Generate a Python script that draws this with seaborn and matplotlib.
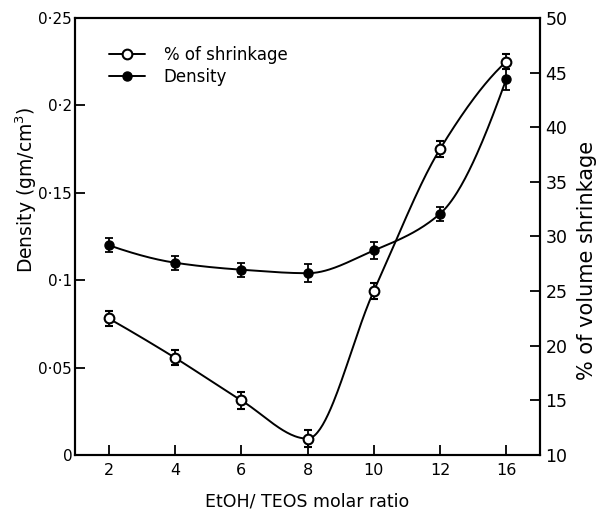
import numpy as np
import pandas as pd
import seaborn as sns
import matplotlib
matplotlib.use("Agg")
import matplotlib.pyplot as plt

# values
ratio_labels = ["2", "4", "6", "8", "10", "12", "16"]
density = [0.120, 0.110, 0.106, 0.104, 0.117, 0.138, 0.215]
density_err = [0.004, 0.004, 0.004, 0.005, 0.005, 0.004, 0.006]
shrinkage = [22.5, 18.9, 15.0, 11.5, 25.0, 38.0, 46.0]
shrinkage_err = [0.7, 0.7, 0.8, 0.8, 0.7, 0.7, 0.7]

left_ticks = [0, 0.05, 0.1, 0.15, 0.2, 0.25]
left_ticklabels = ["0", "0·05", "0·1", "0·15", "0·2", "0·25"]
right_ticks = [10, 15, 20, 25, 30, 35, 40, 45, 50]

df = pd.DataFrame({"ratio": ratio_labels, "density": density,
                   "density_err": density_err, "shrinkage": shrinkage,
                   "shrinkage_err": shrinkage_err})
df["pos"] = np.arange(len(df))


def pchip(x, y, xs):
    # monotone cubic through the measured points, for the smooth guide line
    x = np.asarray(x, float)
    y = np.asarray(y, float)
    h = np.diff(x)
    d = np.diff(y) / h
    m = np.zeros_like(y)
    for i in range(1, len(y) - 1):
        if d[i - 1] * d[i] > 0:
            w1 = 2 * h[i] + h[i - 1]
            w2 = h[i] + 2 * h[i - 1]
            m[i] = (w1 + w2) / (w1 / d[i - 1] + w2 / d[i])
    # three point end slopes
    m[0] = ((2 * h[0] + h[1]) * d[0] - h[0] * d[1]) / (h[0] + h[1])
    m[-1] = ((2 * h[-1] + h[-2]) * d[-1] - h[-1] * d[-2]) / (h[-1] + h[-2])
    idx = np.clip(np.searchsorted(x, xs) - 1, 0, len(x) - 2)
    t = (xs - x[idx]) / h[idx]
    h00 = 2 * t**3 - 3 * t**2 + 1
    h10 = t**3 - 2 * t**2 + t
    h01 = -2 * t**3 + 3 * t**2
    h11 = t**3 - t**2
    return (h00 * y[idx] + h10 * h[idx] * m[idx]
            + h01 * y[idx + 1] + h11 * h[idx] * m[idx + 1])


sns.set_style("ticks")
plt.rcParams["font.family"] = ["DejaVu Sans"]
plt.rcParams["xtick.direction"] = "in"
plt.rcParams["ytick.direction"] = "in"
plt.rcParams["text.color"] = "black"
plt.rcParams["axes.labelcolor"] = "black"
plt.rcParams["xtick.color"] = "black"
plt.rcParams["ytick.color"] = "black"

fig = plt.figure(figsize=(5.97, 5.13), dpi=100)
ax = fig.add_axes([0.1256, 0.113, 0.779, 0.852])
ax2 = ax.twinx()

xs = np.linspace(0, len(df) - 1, 300)

# density on the left axis
sns.lineplot(x=xs, y=pchip(df["pos"], df["density"], xs), ax=ax,
             color="black", lw=1.4)
ax.errorbar(df["pos"], df["density"], yerr=df["density_err"], fmt="o",
            color="black", ms=6.5, capsize=3, elinewidth=1.3, capthick=1.3,
            zorder=5)

# shrinkage on the right axis
sns.lineplot(x=xs, y=pchip(df["pos"], df["shrinkage"], xs), ax=ax2,
             color="black", lw=1.4)
ax2.errorbar(df["pos"], df["shrinkage"], yerr=df["shrinkage_err"], fmt="o",
             color="black", mfc="white", mec="black", mew=1.5, ms=7,
             capsize=3, elinewidth=1.3, capthick=1.3, zorder=5)

ax.set_xlim(-0.51, 6.51)
ax.set_ylim(0, 0.25)
ax2.set_ylim(10, 50)
ax.set_xticks(df["pos"])
ax.set_xticklabels(df["ratio"])
ax.set_yticks(left_ticks)
ax.set_yticklabels(left_ticklabels)
ax2.set_yticks(right_ticks)

for a in (ax, ax2):
    a.tick_params(length=7, width=1.3)
    for s in a.spines.values():
        s.set_linewidth(1.5)
        s.set_color("black")
ax.tick_params(axis="y", labelsize=11, pad=2)
ax.tick_params(axis="x", labelsize=11.5, pad=6)
ax2.tick_params(axis="y", labelsize=12.5, pad=4)

ax.set_xlabel("EtOH/ TEOS molar ratio", fontsize=12.5, labelpad=10)
ax.set_ylabel("Density (gm/cm$^3$)", fontsize=13.5)
ax2.set_ylabel("% of volume shrinkage", fontsize=15)
ax.yaxis.set_label_coords(-0.078, 0.606)
ax2.yaxis.set_label_coords(1.08, 0.446)

handles = [
    plt.Line2D([], [], color="black", lw=1.4, marker="o", mfc="white",
               mec="black", mew=1.5, ms=7),
    plt.Line2D([], [], color="black", lw=1.4, marker="o", ms=6.5),
]
ax.legend(handles, ["% of shrinkage", "Density"], loc="upper left",
          bbox_to_anchor=(0.04, 0.97), frameon=False, fontsize=12,
          handlelength=2.2, handletextpad=1.1, labelspacing=0.25)

fig.savefig("out.png", dpi=100)
